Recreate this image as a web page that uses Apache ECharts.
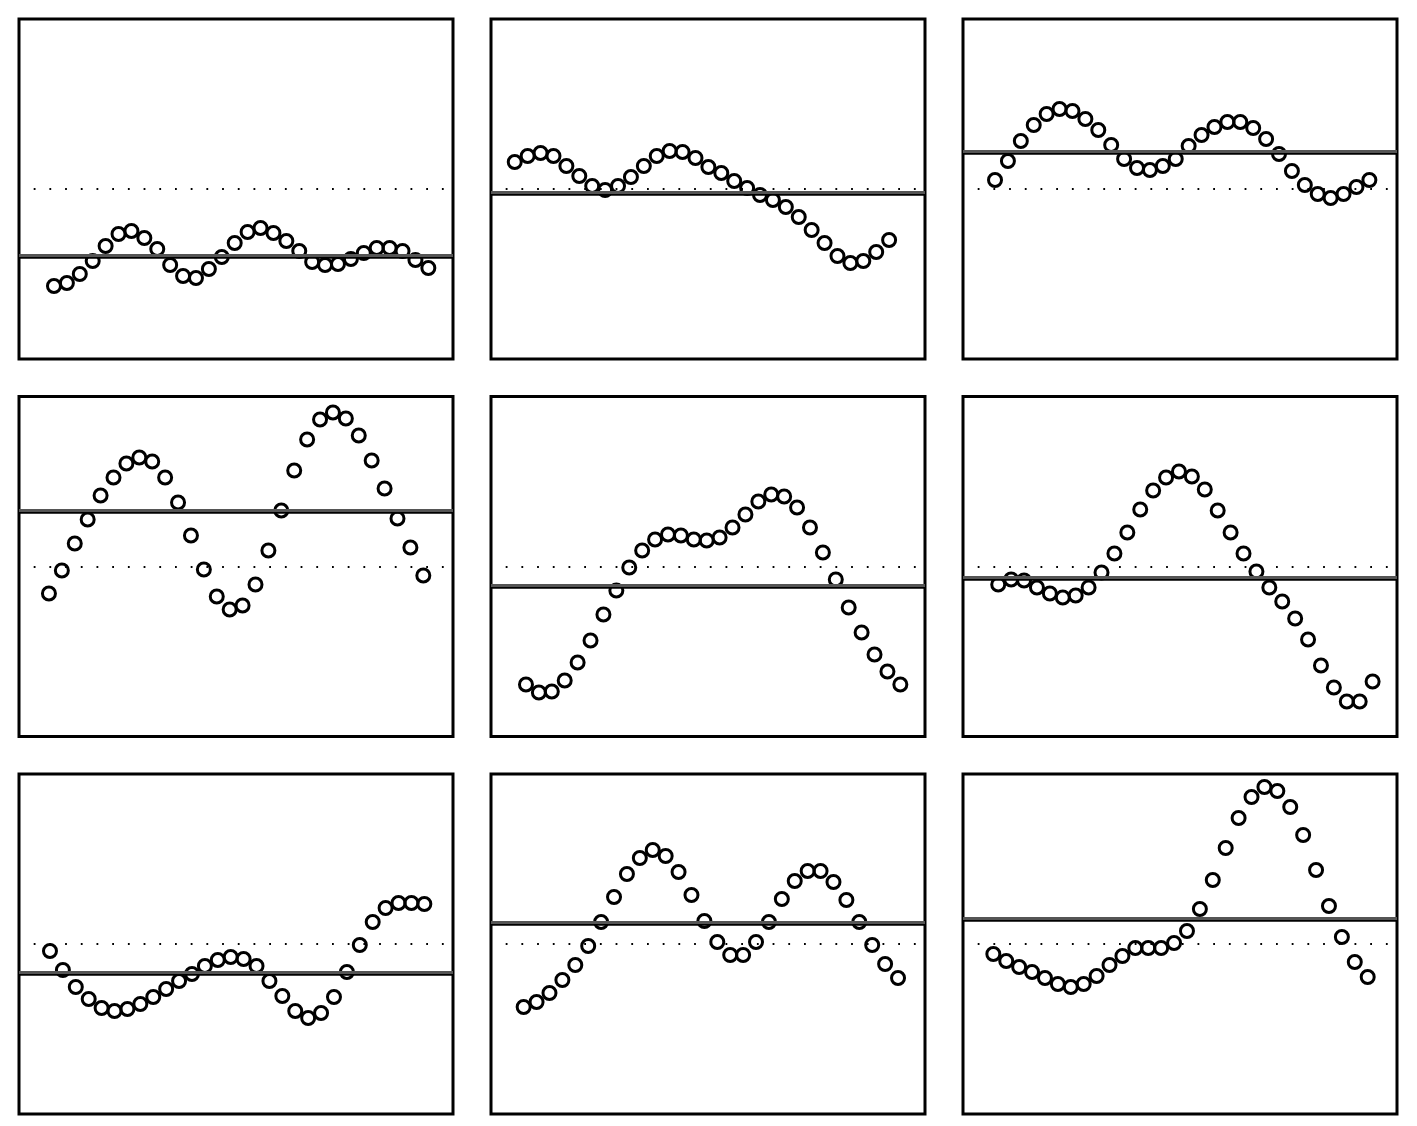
<!DOCTYPE html>
<html>
<head>
<meta charset="utf-8">
<script src="https://cdn.jsdelivr.net/npm/echarts@6/dist/echarts.min.js"></script>
<style>
  html, body { margin: 0; padding: 0; background: #ffffff; }
  #chart { width: 1417px; height: 1126px; }
</style>
</head>
<body>
<div id="chart"></div>
<script>
// time steps shared by all panels
const steps = [0,1,2,3,4,5,6,7,8,9,10,11,12,13,14,15,16,17,18,19,20,21,22,23,24,25,26,27,28,29];

// series values, one array per panel (row by row)
const panel1 = [-0.97,-0.94,-0.85,-0.72,-0.57,-0.45,-0.42,-0.49,-0.60,-0.76,-0.87,-0.89,-0.80,-0.68,-0.54,-0.43,-0.39,-0.44,-0.52,-0.62,-0.73,-0.76,-0.75,-0.70,-0.64,-0.59,-0.59,-0.62,-0.71,-0.79];
const panel2 = [0.27,0.33,0.36,0.33,0.23,0.13,0.03,-0.01,0.03,0.12,0.23,0.33,0.38,0.37,0.31,0.22,0.16,0.08,0.01,-0.06,-0.11,-0.18,-0.28,-0.41,-0.54,-0.67,-0.74,-0.72,-0.63,-0.51];
const panel3 = [0.09,0.28,0.48,0.64,0.75,0.80,0.78,0.70,0.59,0.44,0.30,0.21,0.19,0.23,0.30,0.43,0.54,0.62,0.67,0.67,0.61,0.50,0.35,0.18,0.04,-0.05,-0.09,-0.05,0.02,0.09];
const panel4 = [-0.27,-0.04,0.23,0.47,0.71,0.89,1.03,1.09,1.05,0.89,0.64,0.31,-0.03,-0.30,-0.43,-0.39,-0.18,0.16,0.56,0.96,1.27,1.47,1.54,1.48,1.31,1.06,0.78,0.48,0.19,-0.09];
const panel5 = [-1.18,-1.26,-1.25,-1.14,-0.96,-0.74,-0.48,-0.24,-0.01,0.16,0.27,0.32,0.31,0.27,0.26,0.29,0.39,0.52,0.65,0.72,0.70,0.59,0.39,0.14,-0.13,-0.41,-0.66,-0.88,-1.05,-1.18];
const panel6 = [-0.18,-0.13,-0.14,-0.21,-0.27,-0.31,-0.29,-0.21,-0.06,0.13,0.34,0.57,0.76,0.89,0.95,0.90,0.77,0.56,0.34,0.13,-0.05,-0.21,-0.35,-0.52,-0.73,-0.99,-1.21,-1.35,-1.35,-1.15];
const panel7 = [-0.07,-0.26,-0.43,-0.55,-0.64,-0.67,-0.65,-0.60,-0.53,-0.45,-0.37,-0.30,-0.22,-0.16,-0.13,-0.15,-0.22,-0.37,-0.52,-0.67,-0.74,-0.69,-0.53,-0.28,-0.01,0.22,0.36,0.41,0.41,0.40];
const panel8 = [-0.63,-0.58,-0.49,-0.36,-0.21,-0.02,0.22,0.47,0.70,0.86,0.94,0.88,0.72,0.49,0.23,0.02,-0.11,-0.11,0.02,0.22,0.45,0.63,0.73,0.73,0.62,0.44,0.22,-0.01,-0.20,-0.34];
const panel9 = [-0.10,-0.17,-0.23,-0.28,-0.34,-0.40,-0.43,-0.40,-0.32,-0.21,-0.12,-0.04,-0.04,-0.04,0.01,0.13,0.35,0.64,0.96,1.26,1.47,1.57,1.53,1.37,1.09,0.74,0.38,0.07,-0.18,-0.33];

const panels = [panel1, panel2, panel3, panel4, panel5, panel6, panel7, panel8, panel9];

// axis ranges (layout)
const xMinByPanel = [-2.71, -1.84, -2.48, -2.32, -2.71, -2.73, -2.40, -2.53, -2.35];
const X_SPAN = 33.62;
const Y_MIN = -1.7, Y_MAX = 1.7;

// layout
const colLeft = [19, 491, 963];
const rowTop = [19, 396.5, 774];
const PANEL_W = 434, PANEL_H = 340;

const grids = [], xAxes = [], yAxes = [], series = [];
panels.forEach((vals, i) => {
  const r = Math.floor(i / 3), c = i % 3;
  grids.push({
    left: colLeft[c], top: rowTop[r], width: PANEL_W, height: PANEL_H,
    show: true, borderColor: '#000', borderWidth: 3, backgroundColor: 'transparent',
    containLabel: false
  });
  xAxes.push({
    type: 'value', gridIndex: i, min: xMinByPanel[i], max: xMinByPanel[i] + X_SPAN,
    show: false, splitLine: { show: false }
  });
  yAxes.push({
    type: 'value', gridIndex: i, min: Y_MIN, max: Y_MAX,
    show: false, splitLine: { show: false }
  });
  const mean = vals.reduce((a, b) => a + b, 0) / vals.length;
  series.push({
    type: 'scatter', xAxisIndex: i, yAxisIndex: i,
    data: steps.map((t, k) => [t, vals[k]]),
    symbol: 'circle', symbolSize: 13,
    itemStyle: { color: 'rgba(0,0,0,0)', borderColor: '#000', borderWidth: 3, opacity: 1 },
    silent: true,
    markLine: {
      silent: true, animation: false,
      symbol: ['none', 'none'],
      label: { show: false },
      emphasis: { disabled: true },
      data: [
        { yAxis: 0, lineStyle: { color: '#000', width: 1.8, type: [1.8, 13.9], dashOffset: 1, opacity: 1 } },
        { yAxis: mean, lineStyle: { color: '#555555', width: 3, type: 'solid', opacity: 1,
            shadowColor: '#000', shadowOffsetY: 1.8, shadowBlur: 0 } }
      ]
    }
  });
});

const chart = echarts.init(document.getElementById('chart'), null, { renderer: 'canvas' });
chart.setOption({
  backgroundColor: '#ffffff',
  animation: false,
  grid: grids,
  xAxis: xAxes,
  yAxis: yAxes,
  series: series
});
</script>
</body>
</html>
